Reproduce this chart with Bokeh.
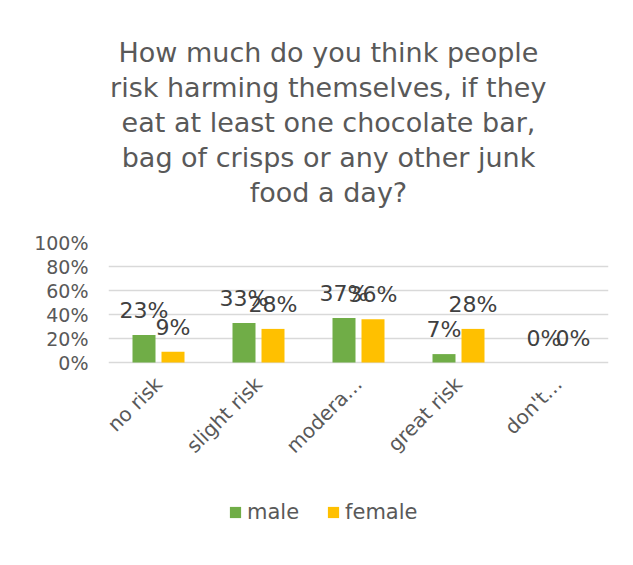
from math import pi
from bokeh.plotting import figure
from bokeh.models import (ColumnDataSource, FactorRange, Range1d, NumeralTickFormatter,
                          FixedTicker, Title, Legend, LegendItem)
from bokeh.transform import dodge
from bokeh.core.properties import value
from bokeh.embed import file_html
from bokeh.resources import INLINE

categories = ["no risk", "slight risk", "modera\u2026", "great risk", "don't\u2026"]
male = [0.23, 0.33, 0.37, 0.07, 0.0]
female = [0.09, 0.28, 0.36, 0.28, 0.0]
male_labels = ["23%", "33%", "37%", "7%", "0%"]
female_labels = ["9%", "28%", "36%", "28%", "0%"]
y_ticks = [0, 0.2, 0.4, 0.6, 0.8, 1.0]
title_lines = ["How much do you think people",
               "risk harming themselves, if they",
               "eat at least one chocolate bar,",
               "bag of crisps or any other junk",
               "food a day?"]

FONT = "DejaVu Sans"
TXT = "#595959"
GREEN = "#70AD47"
YELLOW = "#FFC000"
TITLE_PX = 27

# approximate DejaVu Sans advance widths (units per 2048 em) for centring title lines
ADV = {" ": 651, ",": 651, "?": 1087, "H": 1540, "a": 1255, "b": 1300, "c": 1126,
       "d": 1300, "e": 1260, "f": 721, "g": 1300, "h": 1298, "i": 569, "j": 569,
       "k": 1186, "l": 569, "m": 1995, "n": 1298, "o": 1253, "p": 1300, "r": 842,
       "s": 1067, "t": 803, "u": 1298, "v": 1212, "w": 1675, "y": 1212}


def text_width(s, px):
    return sum(ADV.get(ch, 1200) for ch in s) * px / 2048.0


src = ColumnDataSource(dict(cat=categories, male=male, female=female,
                            ml=male_labels, fl=female_labels))

# plot frame extends below the value axis so the legend (drawn in the frame) is visible;
# 0..1 occupies the top 120 px of the frame
p = figure(x_range=FactorRange(*categories, range_padding=0), y_range=Range1d(-1.4, 1),
           frame_width=500, frame_height=288, output_backend="svg", toolbar_location=None,
           min_border_left=108, min_border_right=25, min_border_top=242,
           min_border_bottom=0)
p.outline_line_color = None

r1 = p.vbar(x=dodge("cat", -0.145, range=p.x_range), top="male", width=0.23, source=src,
            fill_color=GREEN, line_color=None)
r2 = p.vbar(x=dodge("cat", 0.145, range=p.x_range), top="female", width=0.23, source=src,
            fill_color=YELLOW, line_color=None)

p.text(x=dodge("cat", -0.145, range=p.x_range), y="male", text="ml", source=src,
       text_align="center", text_baseline="bottom", y_offset=-12,
       text_font=value(FONT), text_font_size="22px", text_color="#404040")
p.text(x=dodge("cat", 0.145, range=p.x_range), y="female", text="fl", source=src,
       text_align="center", text_baseline="bottom", y_offset=-12,
       text_font=value(FONT), text_font_size="22px", text_color="#404040")

p.xgrid.grid_line_color = None
p.ygrid.grid_line_color = "#D9D9D9"
p.ygrid.grid_line_width = 1.3

p.yaxis.ticker = FixedTicker(ticks=y_ticks)
p.yaxis.formatter = NumeralTickFormatter(format="0%")
p.yaxis.axis_line_color = None
p.yaxis.major_tick_line_color = None
p.yaxis.minor_tick_line_color = None
p.yaxis.major_tick_out = 0
p.yaxis.major_label_standoff = 20
p.yaxis.major_label_text_font = FONT
p.yaxis.major_label_text_font_size = "19px"
p.yaxis.major_label_text_color = TXT

p.xaxis.fixed_location = 0
p.xaxis.axis_line_color = None
p.xaxis.major_tick_line_color = None
p.xaxis.major_tick_out = 0
p.xaxis.major_label_orientation = pi / 4
p.xaxis.major_label_standoff = 18
p.xaxis.major_label_text_font = FONT
p.xaxis.major_label_text_font_size = "20px"
p.xaxis.major_label_text_color = TXT

# spacer between the frame and the title block
p.add_layout(Title(text=" ", text_font_size="1px", standoff=31), "above")
# title lines: added nearest-to-frame first
centre = 328 - 108
for line in reversed(title_lines):
    off = centre - text_width(line, TITLE_PX) / 2
    p.add_layout(Title(text=line, align="left", offset=off, standoff=2,
                       text_font=FONT, text_font_size=f"{TITLE_PX}px",
                       text_font_style="normal", text_color=TXT), "above")

legend = Legend(items=[LegendItem(label="male", renderers=[r1]),
                       LegendItem(label="female", renderers=[r2])],
                orientation="horizontal", location=(120, 6),
                label_text_font=FONT, label_text_font_size="21px", label_text_color=TXT,
                glyph_width=14, glyph_height=14, label_standoff=5, spacing=27,
                padding=0, margin=0, border_line_color=None, background_fill_alpha=0)
p.add_layout(legend)

open("out.html", "w").write(file_html(p, INLINE))
